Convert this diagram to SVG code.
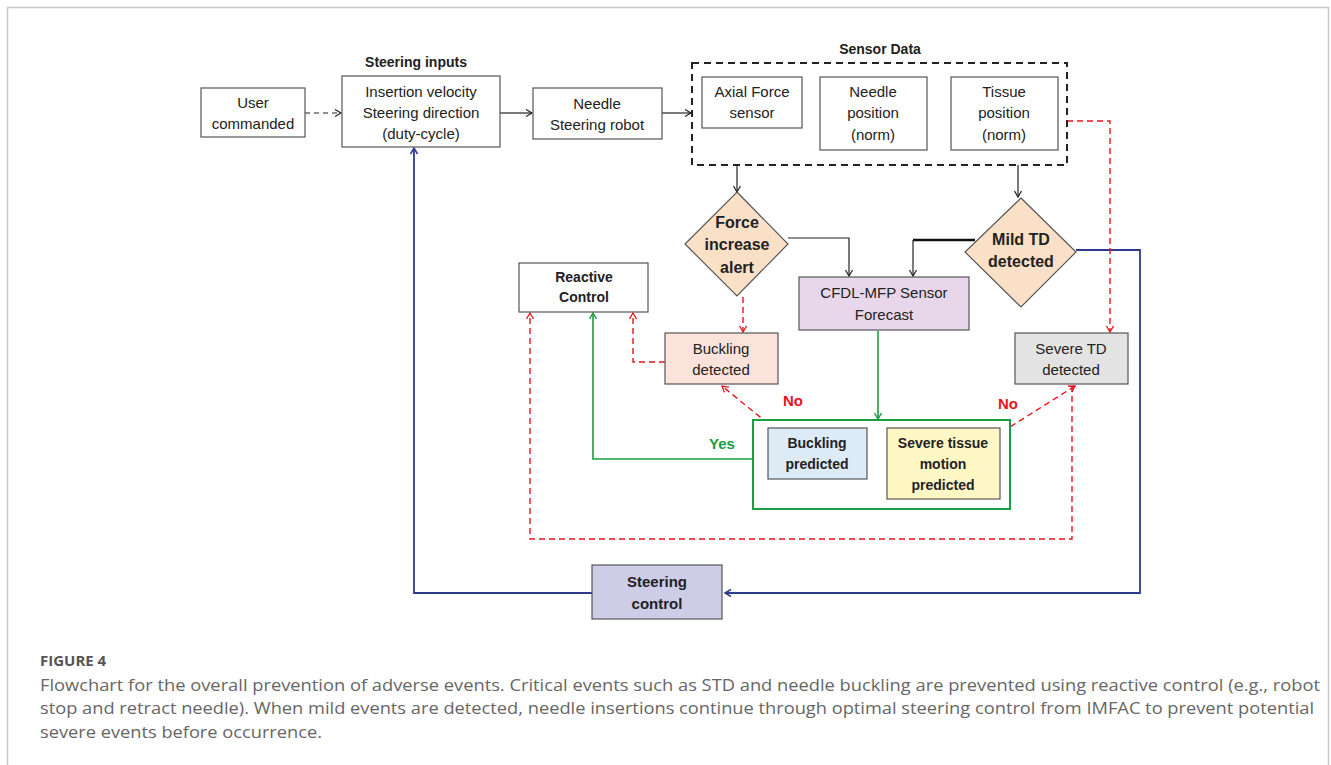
<svg xmlns="http://www.w3.org/2000/svg" width="1331" height="765" viewBox="0 0 1331 765">
<style>
text{font-family:"Liberation Sans",Arial,sans-serif;fill:#222;text-anchor:middle}
.t{font-size:15px}
.b{font-size:15px;font-weight:bold}
.bx{stroke:#555;stroke-width:1.2}
.k{stroke:#222;stroke-width:1.2;fill:none}
.r{stroke:#e8141c;stroke-width:1.4;fill:none;stroke-dasharray:6 4}
.g{stroke:#1a9e43;stroke-width:1.6;fill:none}
.bl{stroke:#2e3a8f;stroke-width:1.8;fill:none}
.cap{font-family:"Open Sans","Liberation Sans",sans-serif;fill:#666;text-anchor:start;font-size:16px}
</style>
<defs>
<marker id="ak" markerWidth="10" markerHeight="10" refX="7" refY="4" orient="auto" markerUnits="userSpaceOnUse"><path d="M1,0.5 L7,4 L1,7.5" fill="none" stroke="#222" stroke-width="1.2"/></marker>
<marker id="ar" markerWidth="10" markerHeight="10" refX="7" refY="4" orient="auto" markerUnits="userSpaceOnUse"><path d="M1,0.5 L7,4 L1,7.5" fill="none" stroke="#e8141c" stroke-width="1.3"/></marker>
<marker id="ag" markerWidth="10" markerHeight="10" refX="7" refY="4" orient="auto" markerUnits="userSpaceOnUse"><path d="M1,0.5 L7,4 L1,7.5" fill="none" stroke="#1a9e43" stroke-width="1.4"/></marker>
<marker id="ab" markerWidth="10" markerHeight="10" refX="7" refY="4" orient="auto" markerUnits="userSpaceOnUse"><path d="M1,0.5 L7,4 L1,7.5" fill="none" stroke="#2e3a8f" stroke-width="1.5"/></marker>
</defs>
<rect x="0" y="0" width="1331" height="765" fill="#fff"/>
<path d="M7.5,775 V7.5 H1328.5 V775" fill="none" stroke="#c8c8c8" stroke-width="1.5"/>

<g id="connectors">
<path class="k" d="M305,113 H341" stroke-dasharray="5 4" marker-end="url(#ak)"/>
<path class="k" d="M500,113 H532" marker-end="url(#ak)"/>
<path class="k" d="M662,113 H691" marker-end="url(#ak)"/>
<path class="k" d="M737,165 V192" marker-end="url(#ak)"/>
<path class="k" d="M788,238 H849 V276" stroke="#555" marker-end="url(#ak)"/>
<path class="k" d="M1018,165 V197" marker-end="url(#ak)"/>
<path d="M975,240 H913" stroke="#111" stroke-width="2.5" fill="none"/>
<path class="k" d="M913,240 V276" marker-end="url(#ak)"/>
<path class="bl" d="M1076,250 H1140 V593 H725" marker-end="url(#ab)"/>
<path class="bl" d="M592,593 H414 V148" marker-end="url(#ab)"/>
<path class="r" d="M1067,121 H1110 V332" marker-end="url(#ar)"/>
<path class="r" d="M743,297 V332" marker-end="url(#ar)"/>
<path class="r" d="M665,362 H633 V313" marker-end="url(#ar)"/>
<path class="r" d="M1072,386 V539 H530 V313" marker-end="url(#ar)"/>
<path class="r" d="M776,430 L722,386" marker-end="url(#ar)"/>
<path class="r" d="M1002,432 L1075,386" marker-end="url(#ar)"/>
<path class="g" d="M878,331 V419" marker-end="url(#ag)"/>
<path class="g" d="M753,459 H593 V313" marker-end="url(#ag)"/>
<text x="793" y="406" class="b" style="fill:#e8141c">No</text>
<text x="1008" y="409" class="b" style="fill:#e8141c">No</text>
<text x="722" y="449" class="b" style="fill:#1a9e43">Yes</text>
</g>

<g id="user">
<rect x="201" y="88" width="104" height="49" fill="#fff" class="bx"/>
<text x="253" y="108" class="t">User</text>
<text x="253" y="129" class="t">commanded</text>
</g>
<g id="steering-inputs">
<text x="416" y="67" class="b" style="font-size:14px">Steering inputs</text>
<rect x="342" y="76" width="158" height="71" fill="#fff" class="bx"/>
<text x="421" y="97" class="t">Insertion velocity</text>
<text x="421" y="118" class="t">Steering direction</text>
<text x="421" y="139" class="t">(duty-cycle)</text>
</g>
<g id="robot">
<rect x="533" y="88" width="129" height="51" fill="#fff" class="bx"/>
<text x="597" y="109" class="t">Needle</text>
<text x="597" y="130" class="t">Steering robot</text>
</g>
<g id="sensor-data">
<text x="880" y="54" class="b" style="font-size:14px">Sensor Data</text>
<rect x="692" y="63" width="375" height="102" fill="none" stroke="#222" stroke-width="2" stroke-dasharray="7 5"/>
</g>
<g id="axial">
<rect x="702" y="77" width="100" height="51" fill="#fff" class="bx"/>
<text x="752" y="97" class="t">Axial Force</text>
<text x="752" y="118" class="t">sensor</text>
</g>
<g id="needle-pos">
<rect x="820" y="77" width="107" height="73" fill="#fff" class="bx"/>
<text x="873" y="97" class="t">Needle</text>
<text x="873" y="118" class="t">position</text>
<text x="873" y="140" class="t">(norm)</text>
</g>
<g id="tissue-pos">
<rect x="951" y="77" width="107" height="73" fill="#fff" class="bx"/>
<text x="1004" y="97" class="t">Tissue</text>
<text x="1004" y="118" class="t">position</text>
<text x="1004" y="140" class="t">(norm)</text>
</g>
<g id="force-alert">
<polygon points="737,192 788,244 737,296 685,244" fill="#fbe0c8" stroke="#555" stroke-width="1.2"/>
<text x="737" y="228" class="b" style="font-size:16px">Force</text>
<text x="737" y="250" class="b" style="font-size:16px">increase</text>
<text x="737" y="273" class="b" style="font-size:16px">alert</text>
</g>
<g id="mild-td">
<polygon points="1021,198 1076,252 1021,307 965,252" fill="#fbe0c8" stroke="#555" stroke-width="1.2"/>
<text x="1021" y="245" class="b" style="font-size:16px">Mild TD</text>
<text x="1021" y="267" class="b" style="font-size:16px">detected</text>
</g>
<g id="cfdl">
<rect x="799" y="277" width="170" height="53" fill="#e8d7ea" class="bx"/>
<text x="884" y="298" class="t">CFDL-MFP Sensor</text>
<text x="884" y="320" class="t">Forecast</text>
</g>
<g id="reactive">
<rect x="519" y="263" width="129" height="49" fill="#fff" class="bx"/>
<text x="584" y="282" class="b" style="font-size:14px">Reactive</text>
<text x="584" y="302" class="b" style="font-size:14px">Control</text>
</g>
<g id="buckling-detected">
<rect x="665" y="333" width="113" height="51" fill="#fbe3dc" class="bx"/>
<text x="721" y="354" class="t">Buckling</text>
<text x="721" y="375" class="t">detected</text>
</g>
<g id="severe-td">
<rect x="1015" y="333" width="113" height="51" fill="#e3e3e3" class="bx"/>
<text x="1071" y="354" class="t">Severe TD</text>
<text x="1071" y="375" class="t">detected</text>
</g>
<g id="prediction">
<rect x="753" y="420" width="257" height="89" fill="#fff" stroke="#1a9e43" stroke-width="2"/>
</g>
<g id="buckling-predicted">
<rect x="768" y="428" width="99" height="51" fill="#ddebf7" class="bx"/>
<text x="817" y="448" class="b" style="font-size:14px">Buckling</text>
<text x="817" y="469" class="b" style="font-size:14px">predicted</text>
</g>
<g id="severe-predicted">
<rect x="887" y="428" width="113" height="71" fill="#fff8c4" class="bx"/>
<text x="943" y="448" class="b" style="font-size:14px">Severe tissue</text>
<text x="943" y="469" class="b" style="font-size:14px">motion</text>
<text x="943" y="490" class="b" style="font-size:14px">predicted</text>
</g>
<g id="steering-control">
<rect x="592" y="565" width="130" height="54" fill="#cdcde8" class="bx"/>
<text x="657" y="587" class="b" style="font-size:15px">Steering</text>
<text x="657" y="609" class="b" style="font-size:15px">control</text>
</g>
<g id="caption">
<text x="40" y="666" class="cap" style="font-weight:bold;fill:#555;font-size:15px">FIGURE 4</text>
<text x="40" y="691" class="cap" textLength="1280" lengthAdjust="spacingAndGlyphs">Flowchart for the overall prevention of adverse events. Critical events such as STD and needle buckling are prevented using reactive control (e.g., robot</text>
<text x="40" y="714" class="cap" textLength="1274" lengthAdjust="spacingAndGlyphs">stop and retract needle). When mild events are detected, needle insertions continue through optimal steering control from IMFAC to prevent potential</text>
<text x="40" y="738" class="cap" textLength="282" lengthAdjust="spacingAndGlyphs">severe events before occurrence.</text>
</g>
</svg>
